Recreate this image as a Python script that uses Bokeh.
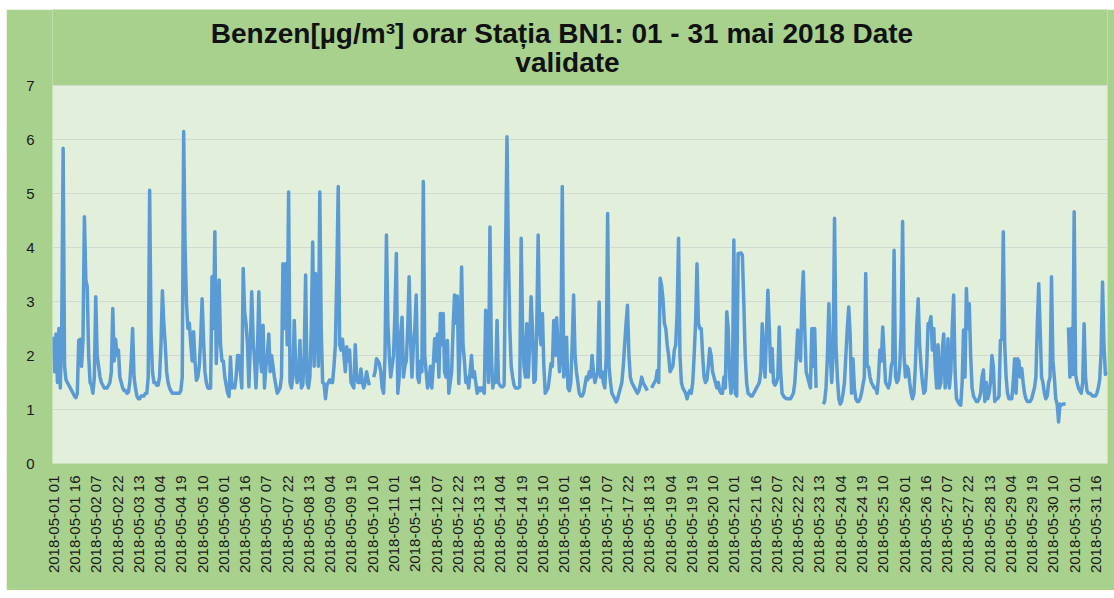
import numpy as np
import pandas as pd
from bokeh.plotting import figure
from bokeh.models import Label, BoxAnnotation, FixedTicker, Range1d, ColumnDataSource
from bokeh.embed import file_html
from bokeh.resources import INLINE

nan = float("nan")

# Hourly benzene values (µg/m³), 24 per block starting 2018-05-01 01:00
day01 = [2.35, 1.7, 2.4, 1.5, 2.5, 1.4, 2.5, 5.84, 1.8, 1.55, 1.5, 1.45, 1.4, 1.35, 1.3, 1.25, 1.22, 1.3, 2.28, 2.3, 1.8, 2.3, 4.57, 3.4]
day02 = [3.27, 2.0, 1.5, 1.45, 1.3, 1.6, 3.09, 2.0, 1.8, 1.6, 1.5, 1.45, 1.4, 1.4, 1.4, 1.45, 1.5, 1.7, 2.87, 1.9, 2.3, 2.0, 2.1, 1.6]
day03 = [1.5, 1.4, 1.35, 1.35, 1.3, 1.32, 1.5, 1.9, 2.5, 1.6, 1.4, 1.25, 1.2, 1.2, 1.25, 1.25, 1.25, 1.3, 1.3, 1.6, 5.06, 2.4, 1.7, 1.5]
day04 = [1.5, 1.45, 1.45, 1.6, 2.2, 3.2, 2.6, 2.2, 1.7, 1.5, 1.4, 1.35, 1.3, 1.3, 1.3, 1.3, 1.3, 1.3, 1.35, 1.6, 6.15, 4.0, 2.96, 2.5]
day05 = [2.6, 2.22, 1.9, 2.44, 1.9, 1.54, 1.6, 1.8, 2.3, 3.05, 2.3, 1.7, 1.5, 1.4, 1.39, 1.4, 3.46, 2.5, 4.29, 1.85, 2.6, 3.4, 2.2, 1.9]
day06 = [1.9, 1.6, 1.45, 1.3, 1.24, 1.97, 1.4, 1.45, 1.4, 1.6, 2.0, 2.0, 1.7, 1.4, 3.61, 2.8, 2.59, 2.2, 1.42, 2.2, 3.18, 2.3, 1.9, 1.4]
day07 = [2.0, 3.18, 2.0, 1.7, 2.56, 1.4, 1.8, 2.0, 2.4, 1.7, 2.0, 1.8, 1.6, 1.45, 1.3, 1.35, 1.4, 1.6, 3.7, 2.5, 3.7, 2.2, 5.03, 1.5]
day08 = [1.4, 1.6, 2.65, 1.8, 1.5, 1.6, 2.28, 1.4, 1.45, 2.0, 3.49, 1.5, 1.4, 1.6, 2.5, 4.1, 1.8, 3.52, 2.5, 1.8, 5.03, 2.5, 1.5, 1.48]
day09 = [1.2, 1.45, 1.5, 1.55, 1.5, 1.5, 1.8, 2.2, 3.5, 5.13, 2.2, 2.1, 2.3, 2.0, 1.7, 2.16, 1.9, 2.1, 1.5, 1.45, 1.4, 2.2, 1.6, 1.5]
day10 = [1.5, 1.75, 1.5, 1.4, 1.5, 1.7, 1.55, 1.45, nan, nan, 1.6, 1.7, 1.94, 1.9, 1.85, 1.7, 1.4, 1.3, 2.0, 4.23, 2.6, 2.0, 1.6, 1.8]
day11 = [2.0, 2.8, 3.89, 1.3, 1.6, 2.4, 2.71, 1.6, 1.8, 1.9, 2.5, 3.46, 2.3, 1.6, 2.2, 2.5, 3.12, 1.6, 1.5, 1.9, 1.7, 5.22, 2.0, 1.7]
day12 = [1.4, 1.5, 1.8, 1.4, 1.8, 2.31, 1.9, 2.4, 1.6, 2.78, 2.2, 2.78, 1.7, 1.6, 2.28, 1.3, 1.5, 1.7, 2.5, 3.12, 2.6, 3.1, 1.48, 2.2]
day13 = [3.64, 2.2, 1.9, 1.5, 1.6, 1.4, 1.7, 2.0, 1.6, 1.7, 1.5, 1.3, 1.4, 1.35, 1.4, 1.35, 1.3, 2.84, 2.5, 1.5, 4.38, 2.0, 1.4, 1.6]
day14 = [1.5, 2.65, 1.5, 1.45, 1.42, 1.42, 1.45, 3.89, 6.05, 3.89, 2.5, 1.8, 1.6, 1.45, 1.4, 1.4, 1.4, 1.42, 4.17, 2.5, 1.8, 1.6, 2.59, 1.6]
day15 = [2.2, 3.09, 2.5, 1.5, 1.55, 2.5, 4.23, 2.5, 2.2, 2.78, 1.8, 1.3, 1.35, 1.4, 1.6, 1.85, 1.8, 2.65, 2.0, 2.7, 2.2, 1.7, 2.0, 5.13]
day16 = [1.6, 1.7, 2.34, 1.4, 1.35, 1.5, 2.2, 3.12, 2.0, 1.7, 1.5, 1.3, 1.25, 1.25, 1.3, 1.45, 1.6, 1.55, 1.7, 1.6, 2.0, 1.7, 1.5, 1.6]
day17 = [1.7, 2.99, 1.6, 1.7, 1.5, 1.4, 2.0, 4.63, 1.8, 1.5, 1.3, 1.25, 1.2, 1.14, 1.2, 1.3, 1.4, 1.5, 1.8, 2.2, 2.6, 2.93, 2.0, 1.6]
day18 = [1.5, 1.45, 1.4, 1.35, 1.3, 1.35, 1.45, 1.6, 1.5, 1.45, 1.4, 1.35, nan, nan, 1.4, 1.45, 1.5, 1.55, 1.72, 1.5, 3.43, 3.3, 3.05, 2.6]
day19 = [2.5, 2.2, 2.0, 1.7, 1.75, 1.8, 2.1, 2.2, 2.8, 4.17, 2.0, 1.5, 1.4, 1.35, 1.3, 1.2, 1.3, 1.35, 1.3, 1.5, 2.0, 2.6, 3.7, 2.6]
day20 = [2.5, 2.5, 2.0, 1.6, 1.5, 1.55, 1.8, 2.13, 2.0, 1.7, 1.6, 1.5, 1.4, 1.5, 1.35, 1.3, 1.3, 1.6, 1.4, 2.81, 2.5, 1.6, 1.3, 1.5]
day21 = [4.14, 1.3, 1.25, 3.89, 3.88, 3.9, 3.86, 3.0, 2.0, 1.5, 1.3, 1.28, 1.25, 1.25, 1.3, 1.35, 1.4, 1.45, 1.5, 1.7, 2.59, 2.0, 1.6, 2.4]
day22 = [3.21, 2.5, 1.7, 2.13, 1.5, 1.45, 1.5, 1.6, 2.53, 1.7, 1.3, 1.25, 1.22, 1.2, 1.2, 1.2, 1.2, 1.25, 1.3, 1.5, 1.94, 2.47, 2.0, 1.9]
day23 = [3.0, 3.55, 2.5, 1.7, 1.6, 1.5, 1.4, 2.5, 1.8, 2.5, 1.4, nan, nan, nan, nan, 1.1, 1.15, 1.4, 2.0, 2.96, 2.0, 1.5, 2.0, 4.54]
day24 = [2.2, 1.6, 1.2, 1.1, 1.15, 1.3, 1.5, 2.0, 2.5, 2.9, 2.4, 1.3, 1.94, 1.4, 1.2, 1.15, 1.15, 1.2, 1.3, 1.45, 1.6, 3.52, 1.8, 1.79]
day25 = [1.6, 1.5, 1.45, 1.4, 1.4, 1.3, 1.6, 2.1, 1.9, 2.53, 2.0, 1.5, 1.45, 1.4, 1.5, 1.8, 1.9, 3.95, 1.6, 1.5, 1.55, 1.8, 2.5, 4.48]
day26 = [2.0, 1.6, 1.8, 1.75, 1.5, 1.3, 1.2, 1.3, 1.8, 2.56, 3.05, 2.2, 1.8, 1.5, 1.3, 1.35, 1.8, 2.59, 2.6, 2.72, 2.1, 2.5, 1.8, 1.4]
day27 = [2.2, 1.4, 1.5, 2.1, 2.4, 1.4, 1.6, 2.31, 1.4, 1.7, 2.5, 3.12, 1.7, 1.2, 1.15, 1.1, 1.08, 1.5, 2.47, 1.6, 3.24, 2.5, 2.96, 2.0]
day28 = [1.4, 1.25, 1.2, 1.15, 1.15, 1.2, 1.3, 1.6, 1.73, 1.15, 1.5, 1.2, 1.3, 1.5, 2.0, 1.8, 1.15, 1.2, 1.2, 1.25, 2.28, 2.3, 4.29, 2.2]
day29 = [1.6, 1.3, 1.2, 1.2, 1.2, 1.5, 1.94, 1.3, 1.94, 1.9, 1.6, 1.76, 1.5, 1.3, 1.2, 1.15, 1.15, 1.15, 1.2, 1.3, 1.4, 1.6, 2.56, 3.33]
day30 = [2.5, 1.6, 1.5, 1.3, 1.2, 1.25, 1.5, 1.6, 3.46, 1.9, 1.6, 1.2, 1.1, 0.77, 1.1, 1.08, 1.1, 1.1, 1.1, nan, 2.52, 1.6, 2.5, 1.65]
day31 = [4.66, 1.65, 1.5, 1.4, 1.35, 1.3, 1.5, 2.59, 1.6, 1.35, 1.3, 1.3, 1.28, 1.25, 1.25, 1.25, 1.3, 1.4, 1.55, 2.07, 3.36, 2.2, 1.65, 1.7]

TITLE_LINE1 = "Benzen[µg/m³] orar Stația BN1: 01 - 31 mai 2018 Date"
TITLE_LINE2 = "validate"
START = "2018-05-01 01:00"
TICK_STEP = 15
Y_TICKS = [0, 1, 2, 3, 4, 5, 6, 7]
Y_MAX = 7

days = [day01, day02, day03, day04, day05, day06, day07, day08, day09, day10,
        day11, day12, day13, day14, day15, day16, day17, day18, day19, day20,
        day21, day22, day23, day24, day25, day26, day27, day28, day29, day30, day31]
values = [v for d in days for v in d]
n = len(values)
hours = pd.date_range(START, periods=n, freq="h")
tick_idx = list(range(0, n, TICK_STEP))
tick_labels = {i: hours[i].strftime("%Y-%m-%d %H") for i in tick_idx}

src = ColumnDataSource(data=dict(x=np.arange(n), y=np.array(values, dtype=float)))

# layout (pixels inside the figure)
FIG_W, FIG_H = 1108, 581
BORDER_L, BORDER_R, BORDER_B = 46, 7, 127
PLOT_TOP_PX = 76                      # distance from figure top to the y=7 line
frame_h = FIG_H - BORDER_B            # frame reaches the figure top (title area lives in it)
px_per_unit = (frame_h - PLOT_TOP_PX) / Y_MAX
y_top = Y_MAX + PLOT_TOP_PX / px_per_unit

frame_w = FIG_W - BORDER_L - BORDER_R
px_per_hour = frame_w / n

def title_pos(px_x, px_y):
    # convert a figure pixel position into data coordinates
    return (-0.5 + px_x / px_per_hour, y_top - px_y / px_per_unit)

p = figure(width=FIG_W, height=FIG_H, output_backend="svg", toolbar_location=None,
           title=None,
           x_range=Range1d(-0.5, n - 0.5), y_range=Range1d(0, y_top),
           min_border_left=BORDER_L, min_border_right=BORDER_R,
           min_border_top=0, min_border_bottom=BORDER_B)
p.styles = {"margin-left": "6px", "margin-top": "9px"}

p.background_fill_color = "#A9D18E"
p.border_fill_color = "#A9D18E"
p.outline_line_color = None

# light plot-area panel (y 0..7)
p.add_layout(BoxAnnotation(bottom=0, top=Y_MAX, fill_color="#E2EFDA", fill_alpha=1.0,
                           line_color=None, level="image"))

p.line("x", "y", source=src, line_color="#5B9BD5", line_width=3.5, line_join="round")

title_style = dict(text_align="center", text_baseline="middle", text_font="Liberation Sans",
                   text_font_size="28px", text_font_style="bold", text_color="#111111")
x1, y1 = title_pos(561.5 - 6 - BORDER_L, 33 - 9)
x2, y2 = title_pos(567 - 6 - BORDER_L, 62 - 9)
p.add_layout(Label(x=x1, y=y1, text=TITLE_LINE1, **title_style))
p.add_layout(Label(x=x2, y=y2, text=TITLE_LINE2, **title_style))

p.xaxis.ticker = FixedTicker(ticks=tick_idx)
p.xaxis.major_label_overrides = tick_labels
p.xaxis.major_label_orientation = np.pi / 2
p.xaxis.major_label_text_font = "Liberation Sans"
p.xaxis.major_label_text_font_size = "15px"
p.xaxis.major_label_text_color = "#1a1a1a"
p.xaxis.major_label_standoff = 12
p.xaxis.major_tick_out = 0
p.xaxis.major_tick_in = 0
p.xaxis.axis_line_color = None
p.xaxis.major_tick_line_color = None
p.xaxis.minor_tick_line_color = None

p.yaxis.ticker = FixedTicker(ticks=Y_TICKS)
p.yaxis.major_label_text_font = "Liberation Sans"
p.yaxis.major_label_text_font_size = "15px"
p.yaxis.major_label_text_color = "#1a1a1a"
p.yaxis.major_label_standoff = 18
p.yaxis.major_tick_out = 0
p.yaxis.major_tick_in = 0
p.yaxis.axis_line_color = None
p.yaxis.major_tick_line_color = None
p.yaxis.minor_tick_line_color = None

p.xgrid.visible = False
p.ygrid.grid_line_color = "#D4D9D0"
p.ygrid.grid_line_width = 1

open("out.html", "w").write(file_html(p, INLINE))
